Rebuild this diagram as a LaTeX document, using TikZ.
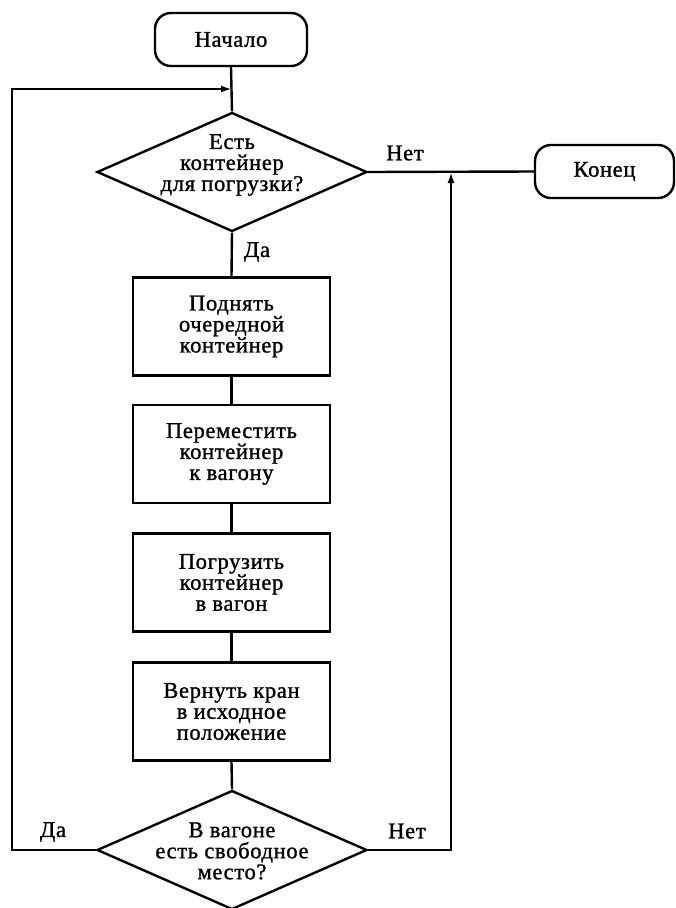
\documentclass[tikz,border=0pt]{standalone}
\usepackage{fontspec}
\setmainfont{Liberation Serif}[LetterSpace=3,FakeBold=1.2]
\usetikzlibrary{shapes.geometric,arrows.meta}
\begin{document}
\begin{tikzpicture}[x=1pt,y=-1pt,
  every node/.style={font=\fontsize{22.5}{21}\selectfont},
  line/.style={line width=2.4pt},
  arr/.style={line width=2.4pt,-{Latex[length=11pt,width=7pt]}},
  term/.style={draw,line width=2.4pt,rounded corners=16pt,minimum height=53pt,inner sep=0pt},
  proc/.style={draw,line width=2.4pt,minimum width=197pt,minimum height=98pt,align=center,inner sep=0pt},
  dec/.style={draw,line width=2.4pt,diamond,minimum width=270pt,minimum height=119pt,inner sep=0pt},
  txt/.style={align=center,inner sep=0pt},
  lbl/.style={inner sep=0pt}]
\useasboundingbox (0,0) rectangle (676,908);
% terminals
\node[term,minimum width=152pt] (start) at (231,39.5) {Начало};
\node[term,minimum width=139pt] (end) at (604.5,171.5) {Конец};
% decision 1
\node[dec] (d1) at (232,172) {};
\node[txt] (d1t) at (232,165) {Есть\\контейнер\\для погрузки?};
% process boxes
\node[proc] (b1) at (231.5,326.5) {Поднять\\очередной\\контейнер};
\node[proc] (b2) at (231.5,454) {Переместить\\контейнер\\к вагону};
\node[proc] (b3) at (231.5,582.5) {Погрузить\\контейнер\\в вагон};
\node[proc] (b4) at (231.5,711.5) {Вернуть кран\\в исходное\\положение};
% decision 2
\node[dec] (d2) at (232,850) {};
\node[txt] (d2t) at (232,851) {В вагоне\\есть свободное\\место?};
% labels
\node[lbl] (lno1) at (405,153) {Нет};
\node[lbl] (lyes1) at (257,252) {Да};
\node[lbl] (lyes2) at (53,832) {Да};
\node[lbl] (lno2) at (407,831) {Нет};
% junction coordinates
\coordinate (j1) at (232,89);
\coordinate (lc) at (12,89);
\coordinate (j2) at (451,172);
% connectors
\draw[line] (start.south) -- (d1.north);
\draw[line] (d1.east) -- (end.west);
\draw[line] (d1.south) -- (b1.north);
\draw[line] (b1.south) -- (b2.north);
\draw[line] (b2.south) -- (b3.north);
\draw[line] (b3.south) -- (b4.north);
\draw[line] (b4.south) -- (d2.north);
\draw[arr] (d2.west) -| (lc) -- (j1);
\draw[arr] (d2.east) -| (j2);
\end{tikzpicture}
\end{document}
